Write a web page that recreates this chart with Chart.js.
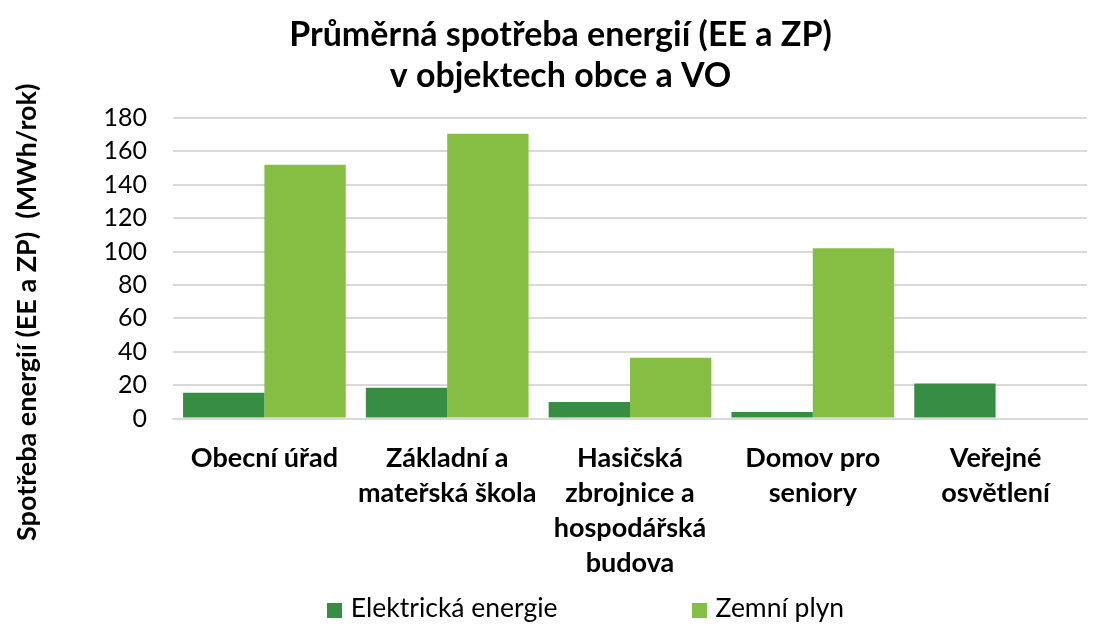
<!DOCTYPE html>
<html>
<head>
  <title>Průměrná spotřeba energií</title>
  <script src="https://cdn.jsdelivr.net/npm/chart.js"></script>
  <style>
    body {
      margin: 0;
      background: #fff;
      font-family: Lato, sans-serif;
    }
    #wrap {
      position: relative;
      width: 1099px;
      height: 626px;
    }
    #c {
      position: absolute;
      left: 0;
      top: 0;
    }
    #legend {
      position: absolute;
      left: 36px;
      top: 591px;
      width: 1099px;
      text-align: center;
      font-size: 26.5px;
      line-height: 32px;
      color: #000;
      white-space: nowrap;
    }
    #legend span.item {
      display: inline-block;
      margin: 0 67px;
    }
    #legend span.box {
      display: inline-block;
      width: 15px;
      height: 15px;
      margin-right: 9px;
      vertical-align: -1px;
    }
  </style>
</head>
<body>
  <div id="wrap">
    <canvas id="c" width="1099" height="605"></canvas>
    <div id="legend"></div>
  </div>

  <script>
    const categories = [
      'Obecní úřad',
      ['Základní a', 'mateřská škola'],
      ['Hasičská', 'zbrojnice a', 'hospodářská', 'budova'],
      ['Domov pro', 'seniory'],
      ['Veřejné', 'osvětlení']
    ];
    const elektrina = [15.5, 18.5, 10, 4, 21];
    const plyn = [152, 170.5, 36.5, 102, 0];
    const seriesNames = ['Elektrická energie', 'Zemní plyn'];
    const colors = ['#378e43', '#86be43'];
    const yTitle = 'Spotřeba energií (EE a ZP)  (MWh/rok)';

    // legend below the chart
    const leg = document.getElementById('legend');
    seriesNames.forEach((name, i) => {
      const item = document.createElement('span');
      item.className = 'item';
      const box = document.createElement('span');
      box.className = 'box';
      box.style.background = colors[i];
      item.appendChild(box);
      item.appendChild(document.createTextNode(name));
      leg.appendChild(item);
    });

    // y axis title, drawn a bit lower than the plot centre (like Excel)
    const yTitlePlugin = {
      id: 'yTitle',
      afterDraw(chart) {
        const ctx = chart.ctx;
        const area = chart.chartArea;
        ctx.save();
        ctx.translate(27, area.top + area.height / 2 + 44);
        ctx.rotate(-Math.PI / 2);
        ctx.font = 'bold 27px Lato, sans-serif';
        ctx.fillStyle = '#000';
        ctx.textAlign = 'center';
        ctx.textBaseline = 'middle';
        ctx.fillText(yTitle, 0, 0);
        ctx.restore();
      }
    };

    Chart.defaults.font.family = 'Lato, sans-serif';
    Chart.defaults.color = '#000';

    new Chart(document.getElementById('c').getContext('2d'), {
      type: 'bar',
      data: {
        labels: categories,
        datasets: [
          { label: seriesNames[0], data: elektrina, backgroundColor: colors[0] },
          { label: seriesNames[1], data: plyn, backgroundColor: colors[1] }
        ]
      },
      options: {
        responsive: false,
        animation: false,
        layout: { padding: { left: 34, right: 12, top: 14, bottom: 10 } },
        datasets: {
          bar: { categoryPercentage: 0.89, barPercentage: 1.0 }
        },
        plugins: {
          legend: { display: false },
          tooltip: { enabled: false },
          title: {
            display: true,
            text: ['Průměrná spotřeba energií (EE a ZP)', 'v objektech obce a VO'],
            font: { size: 34, weight: 'bold', lineHeight: 1.22 },
            padding: { top: 0, bottom: 21 }
          }
        },
        scales: {
          x: {
            grid: { display: false },
            border: { color: '#d9d9d9', width: 2 },
            ticks: {
              maxRotation: 0,
              autoSkip: false,
              padding: 14,
              font: { size: 27, weight: 'bold', lineHeight: 1.3 }
            }
          },
          y: {
            min: 0,
            max: 180,
            ticks: {
              stepSize: 20,
              autoSkip: false,
              padding: 26,
              font: { size: 25, lineHeight: 1.0 }
            },
            grid: { color: '#d9d9d9', lineWidth: 2, drawTicks: false },
            border: { display: false },
            afterFit(scale) {
              scale.width = 139;
            }
          }
        }
      },
      plugins: [yTitlePlugin]
    });
  </script>
</body>
</html>
